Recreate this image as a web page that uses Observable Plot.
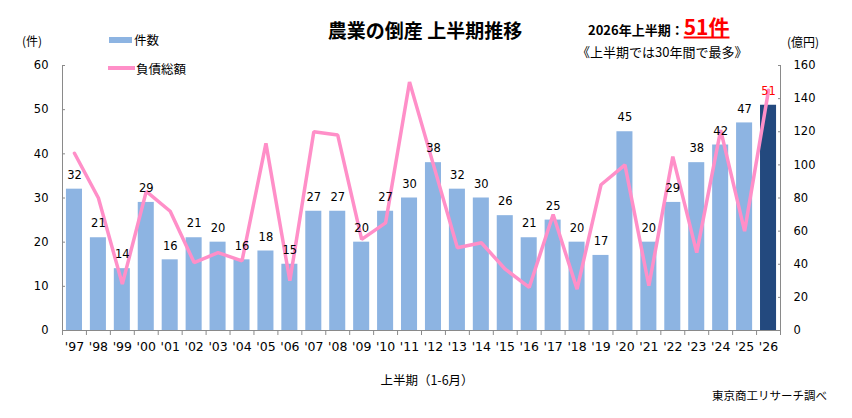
<!DOCTYPE html>
<html>
<head>
<meta charset="utf-8">
<script src="https://cdn.jsdelivr.net/npm/d3@7"></script>
<script src="https://cdn.jsdelivr.net/npm/@observablehq/plot@0.6"></script>
<style>
  body { margin: 0; background: #fff; }
  #wrap { position: relative; width: 852px; height: 418px; font-family: "Noto Sans CJK JP", sans-serif; color: #000; }
  #wrap svg { position: absolute; left: 0; top: 0; }
  .t { position: absolute; white-space: nowrap; line-height: 1; transform: translateY(-50%); }
</style>
</head>
<body>
<div id="wrap">
  <div id="chart"></div>
  <div class="t" style="left:425px;top:29px;transform:translate(-50%,-50%);font-size:19px;font-weight:bold;">農業の倒産 上半期推移</div>
  <div class="t" style="left:588px;top:26px;font-weight:bold;font-size:13px;">2026年上半期：<span style="color:#ff0000;font-size:21px;text-decoration:underline;text-underline-offset:2px;">51件</span></div>
  <div class="t" style="left:577px;top:51px;font-size:13px;">《上半期では30年間で最多》</div>
  <div class="t" style="left:22px;top:41px;font-size:12px;">(件)</div>
  <div class="t" style="left:787px;top:42px;font-size:12px;">(億円)</div>
  <div style="position:absolute;left:109px;top:37px;width:23px;height:6px;background:#8db4e2;"></div>
  <div class="t" style="left:134px;top:40px;font-size:12.5px;">件数</div>
  <div style="position:absolute;left:108px;top:66px;width:27px;height:3.5px;background:#ff8fc8;"></div>
  <div class="t" style="left:136px;top:68.5px;font-size:12.5px;">負債総額</div>
  <div class="t" style="left:427px;top:380px;transform:translate(-50%,-50%);font-size:12.5px;">上半期（1-6月）</div>
  <div class="t" style="left:712px;top:396px;font-size:11.5px;">東京商工リサーチ調べ</div>
</div>
<script>
// First-half (Jan–Jun) agricultural bankruptcies, 1997–2026
const years = ["'97","'98","'99","'00","'01","'02","'03","'04","'05","'06","'07","'08","'09","'10","'11","'12","'13","'14","'15","'16","'17","'18","'19","'20","'21","'22","'23","'24","'25","'26"];
// number of cases (件)
const cases = [32,21,14,29,16,21,20,16,18,15,27,27,20,27,30,38,32,30,26,21,25,20,17,45,20,29,38,42,47,51];
// total liabilities (億円)
const debt = [107,80,28,84,72,41,47,42,113,30,120,118,55,65,150,100,50,53,37,26,70,25,88,100,27,105,47,121,60,145];
// axis ticks
const caseTicks = [0,10,20,30,40,50,60];
const debtTicks = [0,20,40,60,80,100,120,140,160];

const W = 852, H = 418;
const mL = 62, mR = 72, mT = 65, mB = 88;
const ratio = 60 / 160;                       // right axis (億円) onto left axis (件)
const step = (W - mL - mR) / years.length;    // width of one category band
const axisGray = "#8a8a8a";

const rows = years.map((year, i) => ({
  year, cases: cases[i], debt: debt[i], latest: i === years.length - 1
}));

const chart = Plot.plot({
  width: W, height: H,
  marginLeft: mL, marginRight: mR, marginTop: mT, marginBottom: mB,
  style: { fontFamily: "'DejaVu Sans', Verdana, sans-serif", fontSize: "11px", color: "#000", background: "transparent" },
  x: { type: "band", domain: years, paddingInner: 0.33, paddingOuter: 0.165, round: false, axis: null, label: null },
  y: { domain: [0, 60], axis: null, label: null },
  color: { type: "identity" },
  marks: [
    Plot.barY(rows, { x: "year", y: "cases", fill: d => d.latest ? "#23497e" : "#8db4e2" }),
    Plot.lineY(rows, { x: "year", y: d => d.debt * ratio, stroke: "#ff8fc8", strokeWidth: 3.5, strokeLinejoin: "miter" }),
    Plot.text(rows, {
      x: "year", y: "cases", text: d => String(d.cases),
      lineAnchor: "middle", dy: -14,
      fill: d => d.latest ? "#ff0000" : "#000",
      fontWeight: d => d.latest ? "bold" : "normal",
      fontSize: 11.5
    }),
    // axis lines
    Plot.ruleY([0], { stroke: axisGray }),
    Plot.frame({ anchor: "left", stroke: axisGray }),
    Plot.frame({ anchor: "right", stroke: axisGray }),
    // category boundary ticks below the baseline
    Plot.axisX({ ticks: years, tickSize: 5, dx: -step / 2, tickFormat: () => "", stroke: axisGray, label: null }),
    Plot.axisX({ ticks: [years[years.length - 1]], tickSize: 5, dx: step / 2, tickFormat: () => "", stroke: axisGray, label: null }),
    Plot.axisX({ tickSize: 0, tickPadding: 12, fontSize: 12.5, label: null }),
    // left axis (件)
    Plot.axisY({ anchor: "left", ticks: caseTicks, tickSize: 3, dx: 3, tickFormat: () => "", stroke: axisGray, label: null }),
    Plot.axisY({ anchor: "left", ticks: caseTicks, tickSize: 0, tickPadding: 14, fontSize: 11.5, label: null }),
    // right axis (億円)
    Plot.axisY({ anchor: "right", ticks: debtTicks.map(v => v * ratio), tickSize: 3, dx: -3, tickFormat: () => "", stroke: axisGray, label: null }),
    Plot.axisY({ anchor: "right", ticks: debtTicks.map(v => v * ratio), tickSize: 0, tickPadding: 13, tickFormat: v => String(Math.round(v / ratio)), fontSize: 11.5, label: null })
  ]
});

document.getElementById("chart").appendChild(chart);
</script>
</body>
</html>
